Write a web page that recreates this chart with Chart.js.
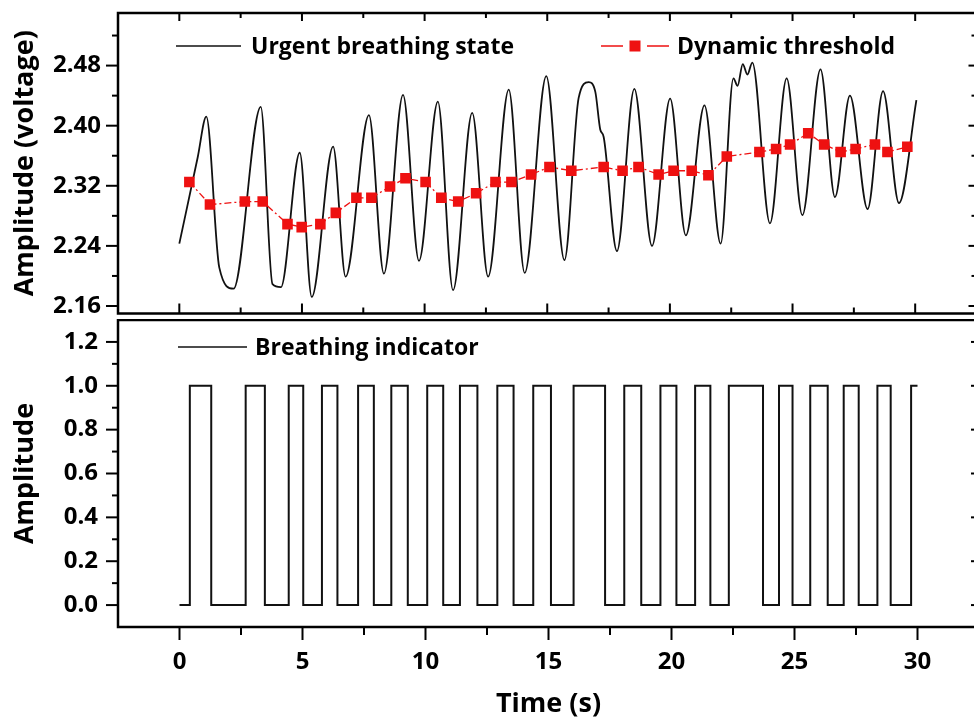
<!DOCTYPE html>
<html lang="en">
<head>
<meta charset="UTF-8">
<title>Urgent breathing state - dynamic threshold and breathing indicator</title>
<script src="https://cdn.jsdelivr.net/npm/chart.js@4.4.2/dist/chart.umd.min.js"></script>
<style>
    html, body { margin: 0; padding: 0; background: #fff; overflow: hidden; }
    body { width: 974px; height: 722px; position: relative; }
    canvas { position: absolute; left: 0; }
    #topChart { top: 0; }
    #bottomChart { top: 319px; }
</style>
</head>
<body>
<canvas id="topChart" width="984" height="321"></canvas>
<canvas id="bottomChart" width="984" height="403"></canvas>
<script>
// --- data ---
const breathTime = [0, 0.75, 1.1, 1.63, 2.21, 3.32, 3.80, 4.14, 4.91, 5.40, 6.27, 6.78, 7.73, 8.34, 9.12, 9.77,
    10.54, 11.16, 11.94, 12.59, 13.43, 14.08, 14.96, 15.70, 16.28, 16.69, 16.96, 17.16, 17.30, 17.84, 18.55, 19.27,
    20.01, 20.65, 21.41, 22.07, 22.59, 22.76, 22.97, 23.16, 23.36, 24.08, 24.76, 25.40, 26.14, 26.73, 27.34, 28.06,
    28.69, 29.34, 30.05];
const breathVolt = [2.243, 2.358, 2.412, 2.211, 2.183, 2.425, 2.189, 2.185, 2.364, 2.172, 2.372, 2.199, 2.414, 2.203, 2.441, 2.220,
    2.432, 2.181, 2.417, 2.199, 2.448, 2.204, 2.466, 2.221, 2.437, 2.458, 2.445, 2.395, 2.385, 2.233, 2.449, 2.240,
    2.436, 2.254, 2.427, 2.243, 2.463, 2.453, 2.482, 2.468, 2.484, 2.270, 2.463, 2.281, 2.475, 2.305, 2.440, 2.289,
    2.446, 2.297, 2.434];

const thrTime = [0.41, 1.25, 2.67, 3.40, 4.41, 4.99, 5.75, 6.38, 7.22, 7.83, 8.59, 9.22, 10.04, 10.68, 11.37, 12.10,
    12.89, 13.54, 14.34, 15.09, 15.98, 17.30, 18.07, 18.72, 19.54, 20.15, 20.89, 21.57, 22.32, 23.65, 24.33, 24.90,
    25.64, 26.29, 26.96, 27.57, 28.36, 28.87, 29.68];
const thrVolt = [2.325, 2.295, 2.299, 2.299, 2.269, 2.265, 2.269, 2.284, 2.304, 2.304, 2.319, 2.330, 2.325, 2.304, 2.299, 2.310,
    2.325, 2.325, 2.335, 2.345, 2.340, 2.345, 2.340, 2.345, 2.335, 2.340, 2.340, 2.334, 2.359, 2.365, 2.369, 2.375,
    2.390, 2.375, 2.365, 2.369, 2.375, 2.365, 2.372];

const edgeTime = [0, 0.42, 1.29, 2.69, 3.47, 4.44, 5.03, 5.79, 6.42, 7.26, 7.90, 8.61, 9.28, 10.07, 10.72, 11.40,
    12.11, 12.92, 13.58, 14.38, 15.10, 16.02, 17.30, 18.08, 18.77, 19.55, 20.20, 20.96, 21.58, 22.33, 23.72, 24.37,
    24.92, 25.64, 26.35, 27.00, 27.61, 28.37, 28.91, 29.74, 30.0];
const edgeLevel = [0, 1, 0, 1, 0, 1, 0, 1, 0, 1, 0, 1, 0, 1, 0, 1,
    0, 1, 0, 1, 0, 1, 0, 1, 0, 1, 0, 1, 0, 1, 0, 1,
    0, 1, 0, 1, 0, 1, 0, 1, 1];

const xMajor = [0, 5, 10, 15, 20, 25, 30];
const xMinor = [2.5, 7.5, 12.5, 17.5, 22.5, 27.5];
const voltMajor = [2.16, 2.24, 2.32, 2.40, 2.48];
const voltMinor = [2.20, 2.28, 2.36, 2.44, 2.52];
const ampMajor = [0, 0.2, 0.4, 0.6, 0.8, 1.0, 1.2];
const ampMinor = [0.1, 0.3, 0.5, 0.7, 0.9, 1.1];

const FONT = "'Open Sans', 'DejaVu Sans', sans-serif";
const pts = (xs, ys) => xs.map((t, i) => ({x: t, y: ys[i]}));

// frame, origin-style tick marks and in-plot legend
const frameTicks = {
    id: 'frameTicks',
    afterDraw(chart, args, o) {
        const {ctx, chartArea: a, scales: {x, y}} = chart;
        ctx.save();
        ctx.strokeStyle = '#000';
        ctx.lineWidth = 2.5;
        ctx.strokeRect(a.left, a.top, a.right - a.left, a.bottom - a.top);

        const seg = (x1, y1, x2, y2) => { ctx.beginPath(); ctx.moveTo(x1, y1); ctx.lineTo(x2, y2); ctx.stroke(); };
        ctx.lineWidth = 2;
        // lengths: positive = outward
        const sides = o.sides;
        const doX = (vals, k) => vals.forEach(v => {
            const px = x.getPixelForValue(v);
            if (sides.top[k]) seg(px, a.top, px, a.top - sides.top[k]);
            if (sides.bottom[k]) seg(px, a.bottom, px, a.bottom + sides.bottom[k]);
        });
        const doY = (vals, k) => vals.forEach(v => {
            const py = y.getPixelForValue(v);
            if (sides.left[k]) seg(a.left, py, a.left - sides.left[k], py);
            if (sides.right[k]) seg(a.right, py, a.right + sides.right[k], py);
        });
        doX(o.xMajor, 0); doX(o.xMinor, 1);
        doY(o.yMajor, 0); doY(o.yMinor, 1);

        // legend
        ctx.font = 'bold 23px ' + FONT;
        ctx.textBaseline = 'middle';
        ctx.fillStyle = '#000';
        o.legend.forEach(item => {
            ctx.strokeStyle = item.color;
            ctx.lineWidth = item.width;
            if (item.marker) {
                const mid = (item.x1 + item.x2) / 2;
                seg(item.x1, item.y, mid - 12, item.y);
                seg(mid + 12, item.y, item.x2, item.y);
                ctx.fillStyle = item.color;
                ctx.fillRect(mid - 5.5, item.y - 5.5, 11, 11);
                ctx.fillStyle = '#000';
            } else {
                seg(item.x1, item.y, item.x2, item.y);
            }
            ctx.fillText(item.text, item.tx, item.y + 1);
        });
        ctx.restore();
    }
};

const tickFont = {family: FONT, weight: 'bold', size: 24};
const titleFont = {family: FONT, weight: 'bold', size: 27};
const noGrid = {display: false, drawTicks: false};
// fixed axis boxes, no label overhang padding
const fixWidth = w => s => { s.width = w; s.paddingTop = 0; s.paddingBottom = 0; };
const fixHeight = h => s => { s.height = h; s.paddingLeft = 0; s.paddingRight = 0; };

new Chart(document.getElementById('topChart'), {
    type: 'line',
    data: {
        datasets: [{
            label: 'Dynamic threshold',
            data: pts(thrTime, thrVolt),
            borderColor: '#ee1111',
            backgroundColor: '#ee1111',
            borderWidth: 1.3,
            borderDash: [7, 3, 2, 3],
            pointStyle: 'rect',
            pointRadius: 7.5,
            pointBorderWidth: 0
        }, {
            label: 'Urgent breathing state',
            data: pts(breathTime, breathVolt),
            borderColor: '#111',
            borderWidth: 1.8,
            pointRadius: 0,
            cubicInterpolationMode: 'monotone'
        }]
    },
    options: {
        responsive: false,
        animation: false,
        layout: {padding: {top: 13, right: 5, bottom: 1, left: 0}},
        scales: {
            x: {type: 'linear', min: -2.5, max: 32.5, display: false},
            y: {
                min: 2.15, max: 2.55,
                afterBuildTicks: s => { s.ticks = voltMajor.map(v => ({value: v})); },
                afterFit: fixWidth(118),
                grid: noGrid,
                border: {display: false},
                ticks: {padding: 17, color: '#000', font: tickFont, callback: v => v.toFixed(2)},
                title: {display: true, text: 'Amplitude (voltage)', color: '#000', font: titleFont, padding: {top: 9}}
            }
        },
        plugins: {
            legend: {display: false},
            tooltip: {enabled: false},
            frameTicks: {
                xMajor: xMajor, xMinor: xMinor, yMajor: voltMajor, yMinor: voltMinor,
                sides: {top: [-8, -5], bottom: [-10, -6], left: [12, 6], right: [-8, -5]},
                legend: [
                    {x1: 176, x2: 241, y: 46, text: 'Urgent breathing state', tx: 251, color: '#111', width: 1.6},
                    {x1: 601, x2: 669, y: 46, text: 'Dynamic threshold', tx: 677, color: '#ee1111', width: 1.5, marker: true}
                ]
            }
        }
    },
    plugins: [frameTicks]
});

new Chart(document.getElementById('bottomChart'), {
    type: 'line',
    data: {
        datasets: [{
            label: 'Breathing indicator',
            data: pts(edgeTime, edgeLevel),
            stepped: true,
            borderColor: '#111',
            borderWidth: 2,
            pointRadius: 0
        }]
    },
    options: {
        responsive: false,
        animation: false,
        layout: {padding: {top: 1, right: 5, bottom: 0, left: 0}},
        scales: {
            x: {
                type: 'linear', min: -2.5, max: 32.5,
                afterBuildTicks: s => { s.ticks = xMajor.map(v => ({value: v})); },
                afterFit: fixHeight(95),
                grid: noGrid,
                border: {display: false},
                ticks: {padding: 21, color: '#000', font: tickFont, maxRotation: 0},
                title: {display: true, text: 'Time (s)', color: '#000', font: titleFont, padding: {bottom: 1}}
            },
            y: {
                min: -0.1, max: 1.3,
                afterBuildTicks: s => { s.ticks = ampMajor.map(v => ({value: v})); },
                afterFit: fixWidth(118),
                grid: noGrid,
                border: {display: false},
                ticks: {padding: 20, color: '#000', font: tickFont, callback: v => v.toFixed(1)},
                title: {display: true, text: 'Amplitude', color: '#000', font: titleFont, padding: {top: 9}}
            }
        },
        plugins: {
            legend: {display: false},
            tooltip: {enabled: false},
            frameTicks: {
                xMajor: xMajor, xMinor: xMinor, yMajor: ampMajor, yMinor: ampMinor,
                sides: {top: [0, 0], bottom: [13, 8], left: [12, 6], right: [-8, -5]},
                legend: [
                    {x1: 178, x2: 247, y: 28, text: 'Breathing indicator', tx: 255, color: '#111', width: 1.6}
                ]
            }
        }
    },
    plugins: [frameTicks]
});
</script>
</body>
</html>
